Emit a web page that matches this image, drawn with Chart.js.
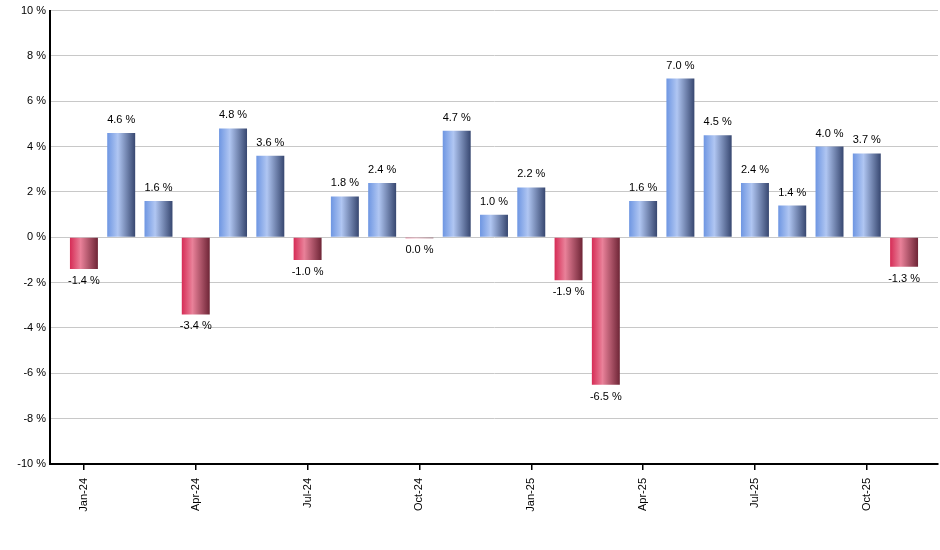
<!DOCTYPE html>
<html>
<head>
<meta charset="utf-8">
<script src="https://cdn.jsdelivr.net/npm/chart.js@4"></script>
<style>
html,body{margin:0;padding:0;background:#fff;}
#wrap{width:940px;height:550px;position:relative;}
</style>
</head>
<body>
<div id="wrap"><canvas id="c" width="940" height="550"></canvas></div>
<script>
const months = ["Jan-24","Feb-24","Mar-24","Apr-24","May-24","Jun-24","Jul-24","Aug-24","Sep-24","Oct-24","Nov-24","Dec-24",
  "Jan-25","Feb-25","Mar-25","Apr-25","May-25","Jun-25","Jul-25","Aug-25","Sep-25","Oct-25","Nov-25"];
const returns = [-1.4,4.6,1.6,-3.4,4.8,3.6,-1.0,1.8,2.4,-0.04,4.7,1.0,2.2,-1.9,-6.5,1.6,7.0,4.5,2.4,1.4,4.0,3.7,-1.3];
const tickIndexes = [0,3,6,9,12,15,18,21];
const yTicks = [-10,-8,-6,-4,-2,0,2,4,6,8,10];

function fmt(v){ return (Math.abs(v) < 0.05 ? "0.0" : v.toFixed(1)) + " %"; }

function barFill(ctx){
  const chart = ctx.chart;
  const xs = chart.scales.x;
  const idx = ctx.dataIndex;
  if (!xs || idx === undefined) return '#7aa0e6';
  const v = returns[idx];
  const cx = xs.getPixelForValue(idx);
  const half = (xs.getPixelForValue(1) - xs.getPixelForValue(0)) * 0.75 / 2;
  if (!isFinite(cx) || !isFinite(half) || half <= 0) return v >= 0 ? '#7aa0e6' : '#c83858';
  const g = chart.ctx.createLinearGradient(cx - half, 0, cx + half, 0);
  if (v >= 0) {
    g.addColorStop(0, '#6e96e2');
    g.addColorStop(0.38, '#b0c6f2');
    g.addColorStop(1, '#374770');
  } else {
    g.addColorStop(0, '#d62c56');
    g.addColorStop(0.38, '#e98199');
    g.addColorStop(1, '#6e2536');
  }
  return g;
}

const labelPlugin = {
  id: 'valueLabels',
  afterDatasetsDraw(chart){
    const meta = chart.getDatasetMeta(0);
    const c = chart.ctx;
    c.save();
    c.font = '11px "Liberation Sans", Arial, sans-serif';
    c.fillStyle = '#000';
    c.textAlign = 'center';
    c.textBaseline = 'alphabetic';
    meta.data.forEach((el, i) => {
      const v = returns[i];
      if (v >= 0) {
        c.fillText(fmt(v), el.x, el.y - 10);
      } else {
        c.fillText(fmt(v), el.x, el.y + 15);
      }
    });
    c.restore();
  }
};

new Chart(document.getElementById('c'), {
  type: 'bar',
  data: {
    datasets: [{
      data: returns.map((v, i) => ({x: i, y: v})),
      backgroundColor: barFill,
      borderWidth: 0,
      categoryPercentage: 1,
      barPercentage: 0.75
    }]
  },
  options: {
    responsive: false,
    animation: false,
    layout: { padding: { top: 9, right: 2, left: 0, bottom: 0 } },
    plugins: { legend: { display: false }, tooltip: { enabled: false } },
    scales: {
      x: {
        type: 'linear',
        offset: false,
        min: -0.91,
        max: 22.91,
        afterBuildTicks(s){ s.ticks = tickIndexes.map(v => ({value: v})); },
        afterFit(s){ s.height = 86; },
        ticks: {
          autoSkip: false,
          maxRotation: 90,
          minRotation: 90,
          padding: 8,
          color: '#000',
          font: { family: '"Liberation Sans", Arial, sans-serif', size: 11 },
          callback: (v) => months[v]
        },
        grid: { offset: false, drawOnChartArea: false, drawTicks: true, tickLength: 6, color: '#000', lineWidth: 1.5 },
        border: { display: true, color: '#000', width: 2 }
      },
      y: {
        min: -10,
        max: 10,
        afterBuildTicks(s){ s.ticks = yTicks.map(v => ({value: v})); },
        afterFit(s){ s.width = 50; },
        ticks: {
          padding: 4,
          color: '#000',
          font: { family: '"Liberation Sans", Arial, sans-serif', size: 11 },
          callback: (v) => v + ' %'
        },
        grid: { color: '#c8c8c8', lineWidth: 1, drawTicks: false },
        border: { display: true, color: '#000', width: 2 }
      }
    }
  },
  plugins: [labelPlugin]
});
</script>
</body>
</html>
